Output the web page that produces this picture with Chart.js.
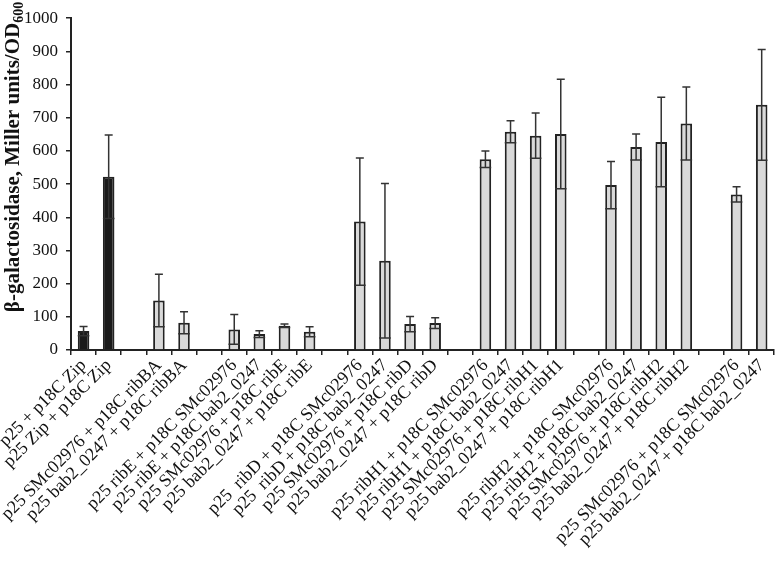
<!DOCTYPE html>
<html>
<head>
<meta charset="utf-8">
<script src="https://cdn.jsdelivr.net/npm/chart.js@4/dist/chart.umd.min.js"></script>
<style>
  html, body { margin: 0; padding: 0; background: #fff; }
  #wrap { width: 777px; height: 561px; position: relative; }
</style>
</head>
<body>
<div id="wrap"><canvas id="chart"></canvas></div>
<script>
// '' entries are empty spacer slots between groups
const labels = [
    'p25 + p18C Zip', 'p25 Zip + p18C Zip', '',
    'p25 SMc02976 + p18C ribBA', 'p25 bab2_0247 + p18C ribBA', '',
    'p25 ribE + p18C SMc02976', 'p25 ribE + p18C bab2_0247', 'p25 SMc02976 + p18C ribE', 'p25 bab2_0247 + p18C ribE', '',
    'p25  ribD + p18C SMc02976', 'p25  ribD + p18C bab2_0247', 'p25 SMc02976 + p18C ribD', 'p25 bab2_0247 + p18C ribD', '',
    'p25 ribH1 + p18C SMc02976', 'p25 ribH1 + p18C bab2_0247', 'p25 SMc02976 + p18C ribH1', 'p25 bab2_0247 + p18C ribH1', '',
    'p25 ribH2 + p18C SMc02976', 'p25 ribH2 + p18C bab2_0247', 'p25 SMc02976 + p18C ribH2', 'p25 bab2_0247 + p18C ribH2', '',
    'p25 SMc02976 + p18C SMc02976', 'p25 bab2_0247 + p18C bab2_0247'
];
const means = [57, 522, null, 149, 82, null, 62, 48, 73, 55, null, 387, 269, 78, 81, null,
    575, 658, 646, 651, null, 497, 612, 627, 683, null, 469, 739];
const sds = [14, 126, null, 79, 33, null, 45, 10, 5, 15, null, 192, 233, 23, 16, null,
    25, 33, 68, 165, null, 71, 39, 135, 110, null, 23, 167];
const controls = [0, 1]; // dark bars
const yTicks = [0, 100, 200, 300, 400, 500, 600, 700, 800, 900, 1000];

const SERIF = '"Liberation Serif", "Times New Roman", Times, serif';
const colours = means.map((v, i) => controls.includes(i) ? '#1a1a1a' : '#d9d9d9');

const errorBars = {
    id: 'errorBars',
    afterDatasetsDraw(chart) {
        const ctx = chart.ctx;
        const meta = chart.getDatasetMeta(0);
        const y = chart.scales.y;
        ctx.save();
        ctx.strokeStyle = '#333';
        ctx.lineWidth = 1.5;
        meta.data.forEach((bar, i) => {
            if (means[i] == null) return;
            const top = y.getPixelForValue(means[i] + sds[i]);
            const bot = y.getPixelForValue(Math.max(0, means[i] - sds[i]));
            const half = 4;
            ctx.beginPath();
            ctx.moveTo(bar.x, top);
            ctx.lineTo(bar.x, bot);
            ctx.moveTo(bar.x - half, top);
            ctx.lineTo(bar.x + half, top);
            ctx.moveTo(bar.x - bar.width / 2, bot);
            ctx.lineTo(bar.x + bar.width / 2, bot);
            ctx.stroke();
        });
        ctx.restore();
    }
};

const yTitle = {
    id: 'yTitle',
    afterDraw(chart) {
        const ctx = chart.ctx;
        const main = 'β-galactosidase, Miller units/OD';
        const sub = '600';
        ctx.save();
        ctx.fillStyle = '#111';
        ctx.textBaseline = 'alphabetic';
        ctx.font = 'bold 21px ' + SERIF;
        const w1 = ctx.measureText(main).width;
        ctx.font = 'bold 14px ' + SERIF;
        const w2 = ctx.measureText(sub).width;
        const total = w1 + w2;
        const cy = 157;
        ctx.translate(19, cy);
        ctx.rotate(-Math.PI / 2);
        ctx.font = 'bold 21px ' + SERIF;
        ctx.fillText(main, -total / 2, 0);
        ctx.font = 'bold 14px ' + SERIF;
        ctx.fillText(sub, -total / 2 + w1, 4);
        ctx.restore();
    }
};

const chart = new Chart(document.getElementById('chart').getContext('2d'), {
    type: 'bar',
    data: {
        labels,
        datasets: [{
            data: means,
            backgroundColor: colours,
            borderColor: '#222',
            borderWidth: 2,
            barPercentage: 0.46,
            categoryPercentage: 1
        }]
    },
    options: {
        responsive: true,
        maintainAspectRatio: false,
        animation: false,
        layout: { padding: { top: 7, right: 2, left: 0, bottom: 0 } },
        plugins: { legend: { display: false }, tooltip: { enabled: false } },
        scales: {
            x: {
                grid: { offset: true, drawOnChartArea: false, tickLength: 5, color: '#222', lineWidth: 1.5 },
                border: { color: '#222', width: 2 },
                ticks: {
                    color: '#111',
                    font: { family: SERIF, size: 18 },
                    maxRotation: 45, minRotation: 45, autoSkip: false, padding: 0
                },
                afterFit(scale) { scale.height = 211; }
            },
            y: {
                min: 0, max: 1000,
                afterBuildTicks(scale) { scale.ticks = yTicks.map(v => ({ value: v })); },
                grid: { drawOnChartArea: false, tickLength: 5, color: '#222', lineWidth: 1.5 },
                border: { color: '#222', width: 2 },
                ticks: {
                    color: '#111',
                    font: { family: SERIF, size: 17 },
                    padding: 8,
                    callback: v => String(v)
                },
                afterFit(scale) { scale.width = 71; }
            }
        }
    },
    plugins: [errorBars, yTitle]
});
</script>
</body>
</html>
